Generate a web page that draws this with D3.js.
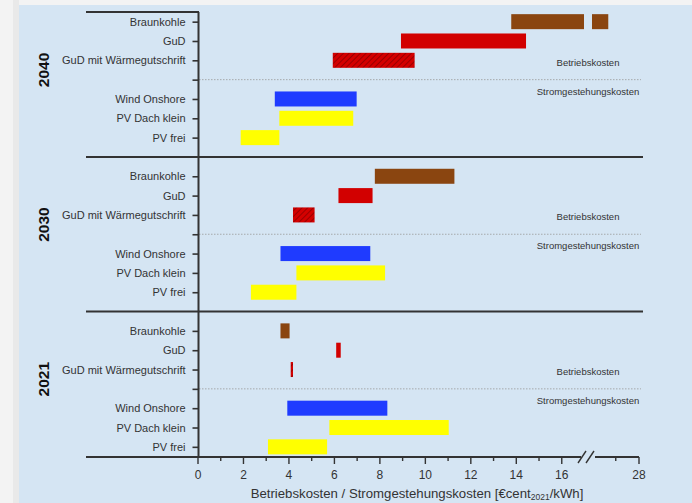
<!DOCTYPE html>
<html>
<head>
<meta charset="utf-8">
<script src="https://cdn.jsdelivr.net/npm/d3@7"></script>
<style>
  html, body { margin: 0; padding: 0; background: #f2f2f2; }
  svg { display: block; font-family: "Liberation Sans", Arial, sans-serif; }
</style>
</head>
<body>
<svg id="chart" width="692" height="503"></svg>
<script>
// Panels (top to bottom) and the technologies listed in each panel
const years = ["2040", "2030", "2021"];
const categories = ["Braunkohle", "GuD", "GuD mit Wärmegutschrift", "", "Wind Onshore", "PV Dach klein", "PV frei"];

// Cost ranges [from, to] in €cent2021/kWh, one array per year (same order as categories, blank slot = null)
const ranges2040 = [[13.8, 26.7], [8.95, 14.45], [5.95, 9.55], null, [3.4, 7.0], [3.6, 6.85], [1.9, 3.6]];
const ranges2030 = [[7.8, 11.3], [6.2, 7.7], [4.2, 5.15], null, [3.65, 7.6], [4.35, 8.25], [2.35, 4.35]];
const ranges2021 = [[3.65, 4.05], [6.1, 6.3], [4.1, 4.2], null, [3.95, 8.35], [5.8, 11.05], [3.1, 5.7]];
const rangesByYear = [ranges2040, ranges2030, ranges2021];

// Axis ticks
const majorTicks = [0, 2, 4, 6, 8, 10, 12, 14, 16, 28];
const minorTicks = [1, 3, 5, 7, 9, 11, 13, 15, 27];
const breakFrom = 17, breakTo = 26;

const fills = ["#8a4510", "#d20000", "url(#hatch)", null, "#1f3bff", "#ffff00", "#ffff00"];

const svg = d3.select("#chart");

// backgrounds
svg.append("rect").attr("x", 0).attr("y", 0).attr("width", 692).attr("height", 503).attr("fill", "#f3f3f3");
svg.append("rect").attr("x", 13).attr("y", 0).attr("width", 6).attr("height", 503).attr("fill", "#e9e9e9");
svg.append("rect").attr("x", 19).attr("y", 5).attr("width", 673).attr("height", 498).attr("fill", "#d5e5f3");

// hatch pattern for heat-credit bars
const defs = svg.append("defs");
const pat = defs.append("pattern").attr("id", "hatch").attr("patternUnits", "userSpaceOnUse")
  .attr("width", 4).attr("height", 4).attr("patternTransform", "rotate(45)");
pat.append("rect").attr("width", 4).attr("height", 4).attr("fill", "#d40000");
pat.append("line").attr("x1", 0).attr("y1", 0).attr("x2", 0).attr("y2", 4)
  .attr("stroke", "#8c0000").attr("stroke-width", 1.6);

// broken x scale: 0..17 then 26..28
const x = d3.scaleLinear().domain([0, breakFrom, breakTo, 28]).range([197.5, 584, 592, 638.5]);
// continuous slot scale: 8 slots per panel
const y = d3.scaleLinear().domain([-0.5, 22.5]).range([12, 456.5]);
const barH = 15;

const slotOf = (p, i) => p * 8 + i;

// dotted separators between operating costs and generation costs
years.forEach((yr, p) => {
  const yy = y(slotOf(p, 3));
  svg.append("line").attr("x1", 199).attr("x2", 641).attr("y1", yy).attr("y2", yy)
    .attr("stroke", "#9a9a9a").attr("stroke-width", 0.8).attr("stroke-dasharray", "1.5,1.5");
  svg.append("text").attr("x", 588).attr("y", y(slotOf(p, 2.1))).attr("dy", "0.35em")
    .attr("text-anchor", "middle").attr("font-size", 9.5).attr("fill", "#333").text("Betriebskosten");
  svg.append("text").attr("x", 588).attr("y", y(slotOf(p, 3.6))).attr("dy", "0.35em")
    .attr("text-anchor", "middle").attr("font-size", 9.5).attr("fill", "#333").text("Stromgestehungskosten");
  svg.append("text")
    .attr("transform", `translate(49,${y(slotOf(p, 2.5))}) rotate(-90)`)
    .attr("text-anchor", "middle").attr("font-size", 15.5).attr("font-weight", "bold")
    .attr("fill", "#111").text(yr);
});

// bars (split across the axis break when needed)
const segs = [[0, breakFrom], [breakTo, 28]];
rangesByYear.forEach((ranges, p) => {
  ranges.forEach((r, i) => {
    if (!r) return;
    segs.forEach(([s0, s1]) => {
      const a = Math.max(r[0], s0), b = Math.min(r[1], s1);
      if (b <= a) return;
      svg.append("rect")
        .attr("x", x(a)).attr("width", x(b) - x(a))
        .attr("y", y(slotOf(p, i)) - barH / 2).attr("height", barH)
        .attr("fill", fills[i]);
    });
  });
});

// y axis with category labels
const tickSlots = [];
years.forEach((yr, p) => categories.forEach((c, i) => tickSlots.push(slotOf(p, i))));
const yAxis = d3.axisLeft(y).tickValues(tickSlots)
  .tickFormat(k => categories[k % 8]).tickSize(6).tickPadding(7).tickSizeOuter(0);
const gy = svg.append("g").attr("transform", "translate(198.5,0)").call(yAxis);
gy.select(".domain").remove();
gy.selectAll(".tick line").attr("stroke", "#333").attr("stroke-width", 1.6);
gy.selectAll(".tick text").attr("font-size", 11).attr("fill", "#333").attr("font-family", "Liberation Sans, Arial, sans-serif");

// frame lines
const lineCol = "#333";
svg.append("line").attr("x1", 198.5).attr("x2", 198.5).attr("y1", 12).attr("y2", 457)
  .attr("stroke", lineCol).attr("stroke-width", 2);
svg.append("line").attr("x1", 86).attr("x2", 199).attr("y1", y(-0.5)).attr("y2", y(-0.5))
  .attr("stroke", lineCol).attr("stroke-width", 2);
[7, 15].forEach(k => {
  svg.append("line").attr("x1", 86).attr("x2", 643).attr("y1", y(k)).attr("y2", y(k))
    .attr("stroke", lineCol).attr("stroke-width", 2);
});

// x axis
const axisY = 457;
const gx = svg.append("g").attr("transform", `translate(0,${axisY})`);
gx.call(d3.axisBottom(x).tickValues(majorTicks).tickFormat(d3.format("d")).tickSize(7).tickPadding(6).tickSizeOuter(0));
gx.select(".domain").remove();
gx.selectAll(".tick line").attr("stroke", lineCol).attr("stroke-width", 1.4);
gx.selectAll(".tick text").attr("font-size", 12).attr("fill", "#333").attr("font-family", "Liberation Sans, Arial, sans-serif");
const gxm = svg.append("g").attr("transform", `translate(0,${axisY})`);
gxm.call(d3.axisBottom(x).tickValues(minorTicks).tickFormat("").tickSize(4).tickSizeOuter(0));
gxm.select(".domain").remove();
gxm.selectAll(".tick line").attr("stroke", lineCol).attr("stroke-width", 1.4);

// axis line with break
svg.append("line").attr("x1", 86).attr("x2", 581).attr("y1", axisY).attr("y2", axisY)
  .attr("stroke", lineCol).attr("stroke-width", 2);
svg.append("line").attr("x1", 595).attr("x2", 639).attr("y1", axisY).attr("y2", axisY)
  .attr("stroke", lineCol).attr("stroke-width", 2);
[[578, 586], [586, 594]].forEach(([a, b]) => {
  svg.append("line").attr("x1", a).attr("x2", b).attr("y1", axisY + 6).attr("y2", axisY - 6)
    .attr("stroke", lineCol).attr("stroke-width", 1.4);
});

// x axis title
const title = svg.append("text").attr("x", 417).attr("y", 497.5).attr("text-anchor", "middle")
  .attr("font-size", 13.2).attr("fill", "#333");
title.append("tspan").text("Betriebskosten / Stromgestehungskosten [€cent");
title.append("tspan").attr("font-size", 8.5).attr("dy", 2.5).text("2021");
title.append("tspan").attr("dy", -2.5).text("/kWh]");
</script>
</body>
</html>
